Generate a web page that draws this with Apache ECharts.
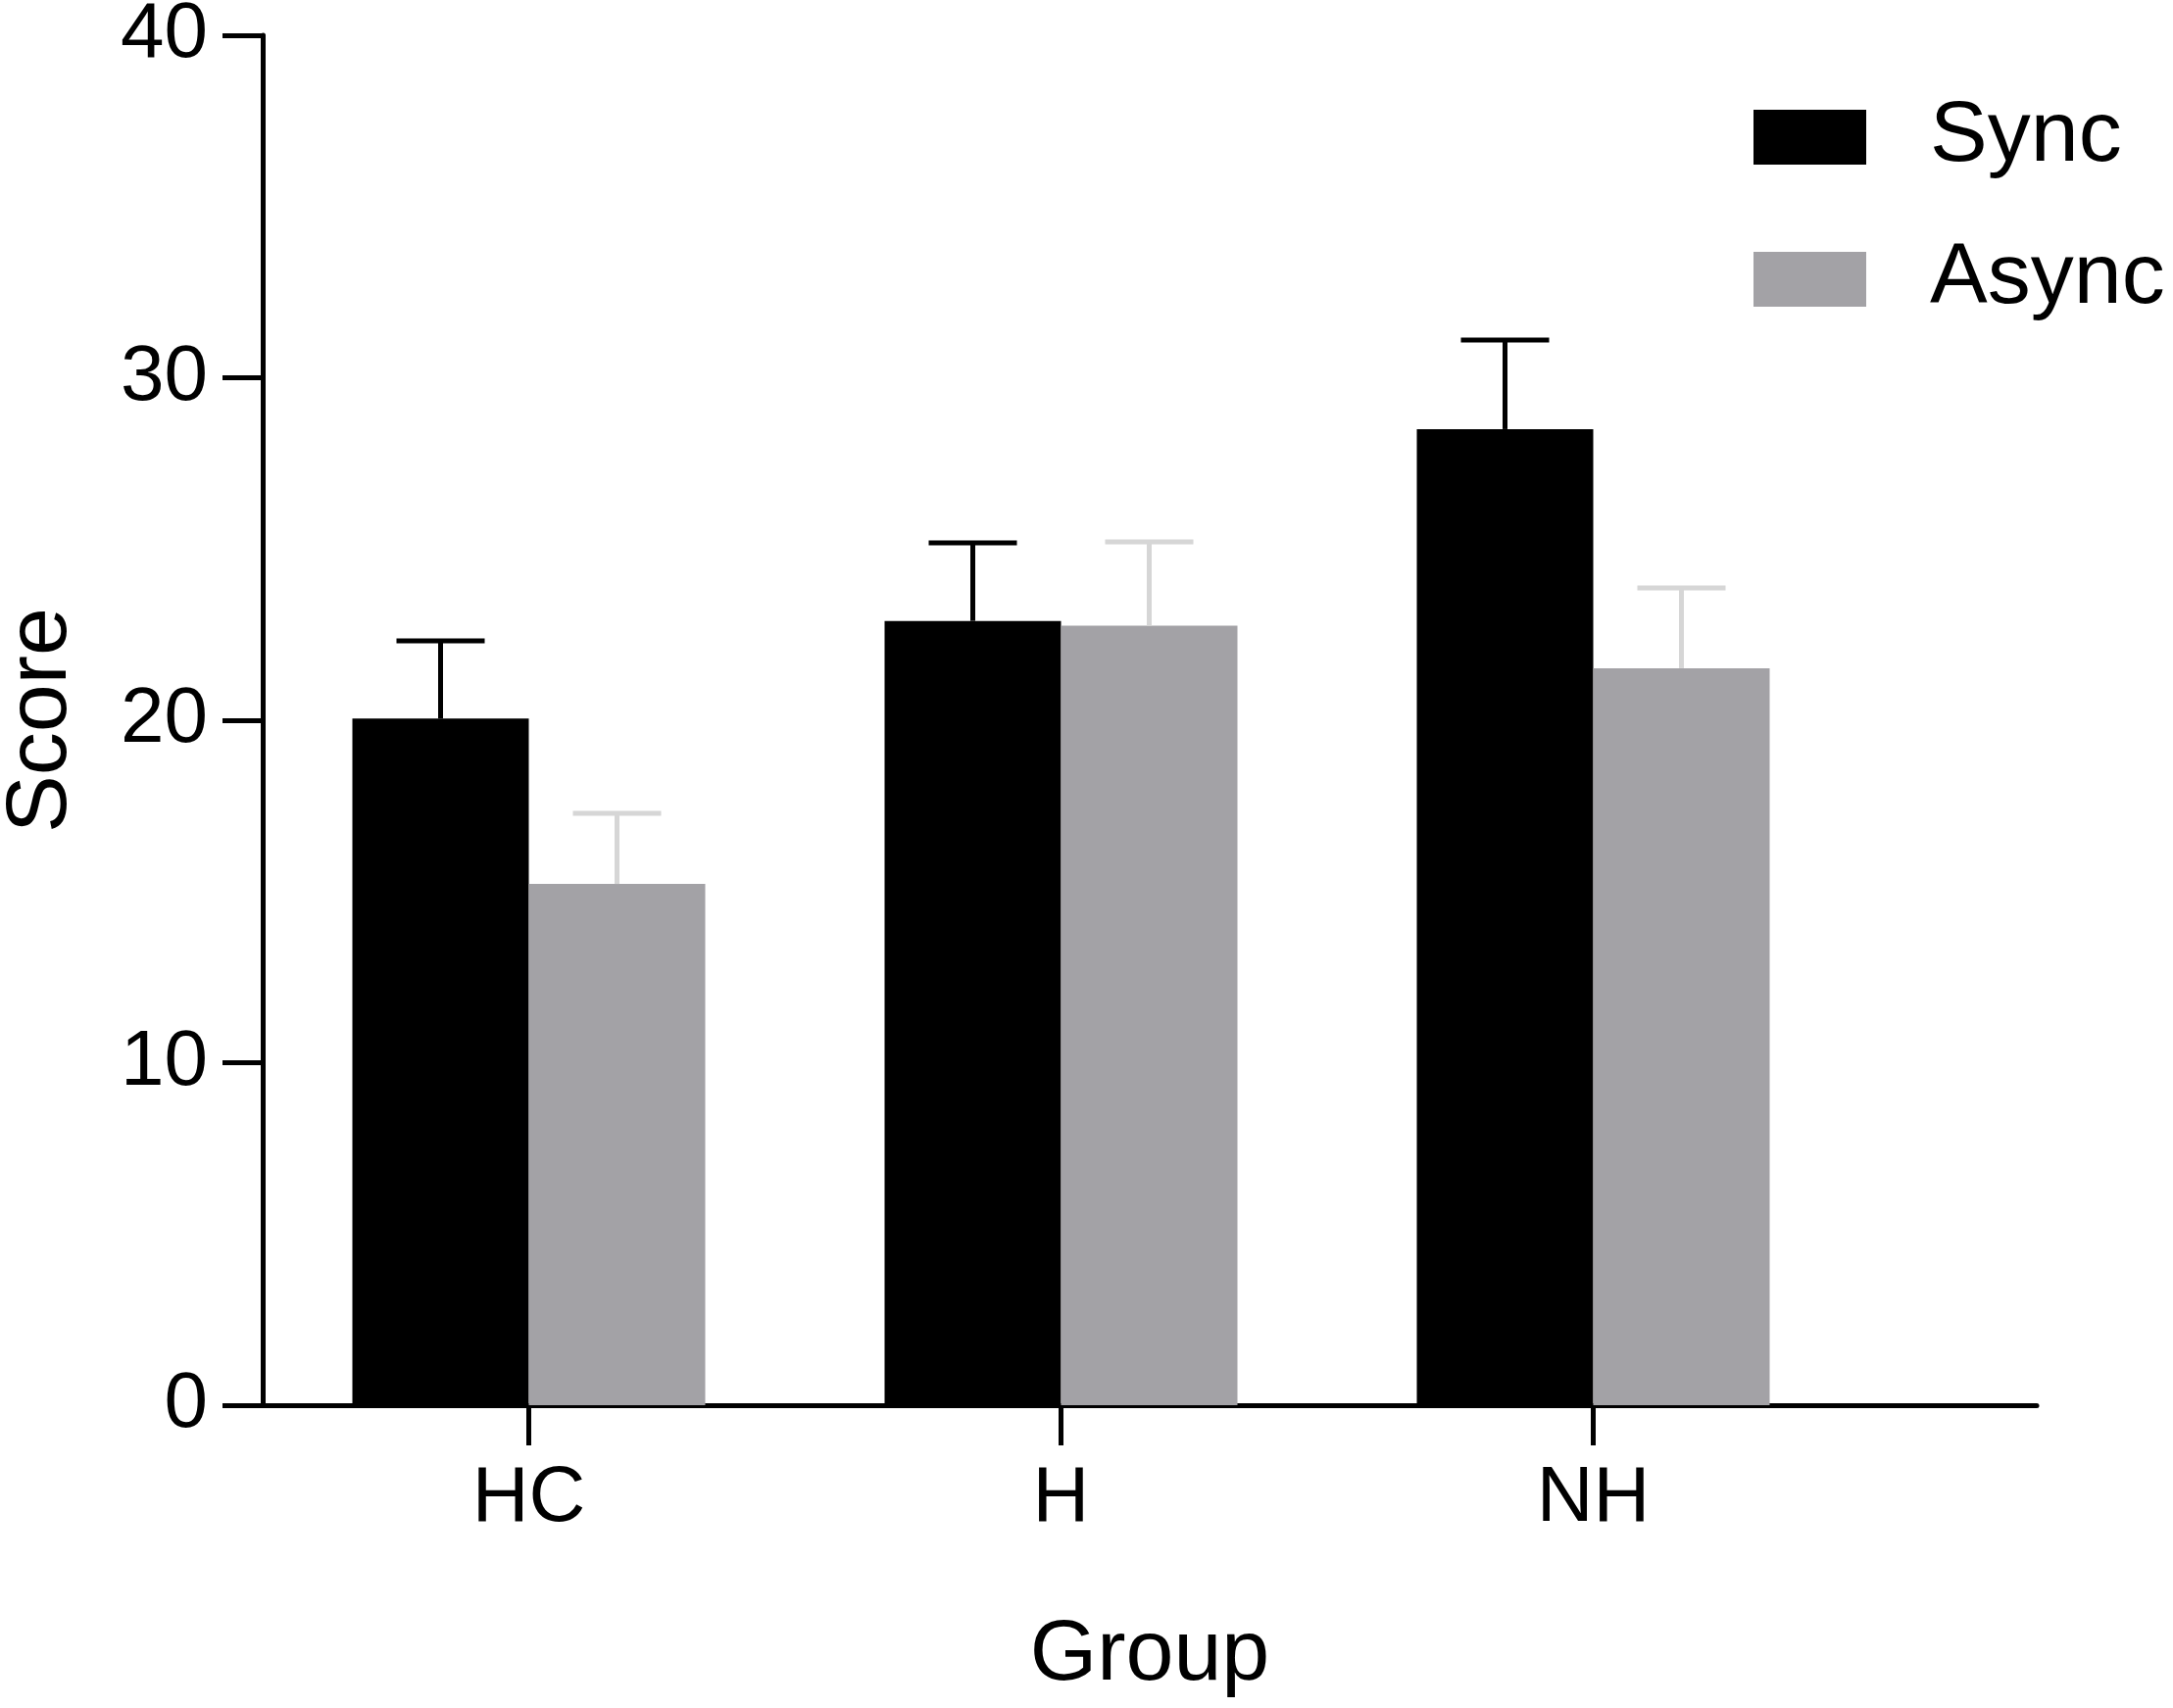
<!DOCTYPE html>
<html>
<head>
<meta charset="utf-8">
<script src="https://cdn.jsdelivr.net/npm/echarts@6/dist/echarts.min.js"></script>
<style>
html,body{margin:0;padding:0;background:#fff;}
#chart{width:2217px;height:1743px;}
</style>
</head>
<body>
<div id="chart"></div>
<script>
const categories = ['HC', 'H', 'NH'];
const syncMean = [20.05, 22.9, 28.5];
const syncErr = [2.27, 2.28, 2.6];
const asyncMean = [15.22, 22.76, 21.52];
const asyncErr = [2.06, 2.45, 2.34];
const yTicks = [0, 10, 20, 30, 40];

const FONT = '"Liberation Sans", Arial, Helvetica, sans-serif';
const idx = categories.map((c, i) => i);

function barData(vals) { return vals.map((v, i) => [i, v]); }
function errData(vals, errs) { return vals.map((v, i) => [i, v, v + errs[i]]); }

function errRender(offsetPx, color) {
  return function (params, api) {
    const x = api.value(0);
    const lo = api.coord([x, api.value(1)]);
    const hi = api.coord([x, api.value(2)]);
    const cx = lo[0] + offsetPx;
    const half = 45;
    return {
      type: 'group',
      children: [
        { type: 'line', shape: { x1: cx, y1: lo[1], x2: cx, y2: hi[1] }, style: { stroke: color, lineWidth: 5 } },
        { type: 'line', shape: { x1: cx - half, y1: hi[1], x2: cx + half, y2: hi[1] }, style: { stroke: color, lineWidth: 5 } }
      ]
    };
  };
}

const chart = echarts.init(document.getElementById('chart'), null, { renderer: 'canvas' });
chart.setOption({
  backgroundColor: '#ffffff',
  animation: false,
  textStyle: { fontFamily: FONT, color: '#000' },
  grid: { left: 268, top: 36, right: 139, bottom: 309, containLabel: false, outerBoundsMode: 'none' },
  legend: {
    data: ['Sync', 'Async'],
    orient: 'vertical',
    left: 1789,
    top: 96,
    padding: 0,
    itemWidth: 115,
    itemHeight: 56,
    itemGap: 57,
    icon: 'rect',
    textStyle: { fontSize: 88, color: '#000', fontFamily: FONT, padding: [0, 0, 0, 60] }
  },
  xAxis: {
    type: 'value',
    min: -0.5,
    max: -0.5 + 1810 / 543,
    name: 'Group',
    nameLocation: 'middle',
    nameGap: 212,
    nameTextStyle: { fontSize: 88, color: '#000', fontFamily: FONT },
    axisLine: { show: true, onZero: false, lineStyle: { color: '#000', width: 5 } },
    axisTick: { show: true, length: 41, lineStyle: { color: '#000', width: 5 }, customValues: idx },
    axisLabel: {
      show: true, fontSize: 80, color: '#000', fontFamily: FONT, margin: 56,
      customValues: idx,
      formatter: v => categories[Math.round(v)] || ''
    },
    splitLine: { show: false }
  },
  yAxis: {
    type: 'value',
    min: 0,
    max: 40,
    interval: 10,
    name: 'Score',
    nameLocation: 'middle',
    nameGap: 181,
    nameTextStyle: { fontSize: 88, color: '#000', fontFamily: FONT },
    axisLine: { show: true, onZero: false, lineStyle: { color: '#000', width: 5 } },
    axisTick: { show: true, length: 41, lineStyle: { color: '#000', width: 5 } },
    axisLabel: { fontSize: 80, color: '#000', fontFamily: FONT, margin: 56,
      formatter: v => yTicks.indexOf(v) >= 0 ? String(v) : '' },
    splitLine: { show: false }
  },
  series: [
    { name: 'Sync', type: 'bar', data: barData(syncMean), barWidth: 180, barGap: '0%', itemStyle: { color: '#000000' }, z: 2 },
    { name: 'Async', type: 'bar', data: barData(asyncMean), barWidth: 180, barGap: '0%', itemStyle: { color: '#a3a2a6' }, z: 2 },
    { name: 'SyncErr', type: 'custom', data: errData(syncMean, syncErr), renderItem: errRender(-90, '#000000'), z: 3, encode: { x: 0, y: [1, 2] } },
    { name: 'AsyncErr', type: 'custom', data: errData(asyncMean, asyncErr), renderItem: errRender(90, '#d6d6d6'), z: 3, encode: { x: 0, y: [1, 2] } }
  ]
});
</script>
</body>
</html>
